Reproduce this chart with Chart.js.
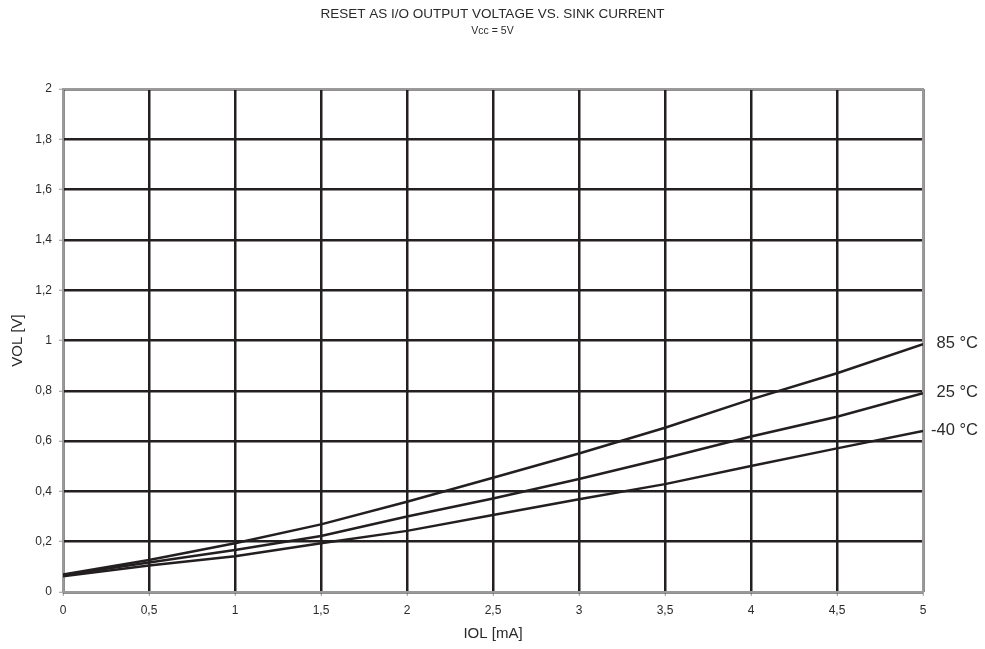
<!DOCTYPE html>
<html>
<head>
<meta charset="utf-8">
<script src="https://cdn.jsdelivr.net/npm/chart.js@4.4.1/dist/chart.umd.min.js"></script>
<style>
  html, body { margin: 0; padding: 0; background: #fff; }
  #wrap { width: 985px; height: 649px; }
</style>
</head>
<body>
<div id="wrap"><canvas id="chart"></canvas></div>
<script>
const chartTitle = 'RESET AS I/O OUTPUT VOLTAGE VS. SINK CURRENT';
const chartSubtitle = 'Vcc = 5V';
const xTitle = 'IOL [mA]';
const yTitle = 'VOL [V]';

const iol = [0, 0.5, 1, 1.5, 2, 2.5, 3, 3.5, 4, 4.5, 5];
const vol85 = [0.070, 0.127, 0.194, 0.269, 0.359, 0.454, 0.551, 0.653, 0.766, 0.870, 0.985];
const vol25 = [0.068, 0.117, 0.167, 0.223, 0.300, 0.372, 0.449, 0.532, 0.618, 0.697, 0.790];
const volM40 = [0.063, 0.105, 0.142, 0.194, 0.243, 0.306, 0.369, 0.429, 0.501, 0.571, 0.640];
const seriesLabels = ['85 °C', '25 °C', '-40 °C'];

const ink = '#231f20';
const textInk = '#2a2a2a';
const frameGray = '#9a9a9a';
const font = 'Arial, "Liberation Sans", sans-serif';

const toPoints = ys => iol.map((x, i) => ({ x, y: ys[i] }));
const comma = v => String(Math.round(v * 10) / 10).replace('.', ',');

function makeDataset(label, ys) {
  return {
    label,
    data: toPoints(ys),
    borderColor: ink,
    borderWidth: 2.5,
    pointRadius: 0,
    tension: 0,
    fill: false
  };
}

// titles at top of the canvas
const titlePlugin = {
  id: 'titles',
  afterDraw(chart) {
    const ctx = chart.ctx;
    ctx.save();
    ctx.fillStyle = textInk;
    ctx.textAlign = 'center';
    ctx.textBaseline = 'middle';
    ctx.font = '13.5px ' + font;
    ctx.fillText(chartTitle, chart.width / 2, 14);
    ctx.font = '10.5px ' + font;
    ctx.fillText(chartSubtitle, chart.width / 2, 31);
    ctx.restore();
  }
};

// grey frame round the plot area
const framePlugin = {
  id: 'frame',
  beforeDatasetsDraw(chart) {
    const { left, top, right, bottom } = chart.chartArea;
    const ctx = chart.ctx;
    ctx.save();
    ctx.strokeStyle = frameGray;
    ctx.lineWidth = 2;
    ctx.strokeRect(left, top, right - left, bottom - top);
    ctx.restore();
  }
};

// series names next to the line ends
const endLabelPlugin = {
  id: 'endLabels',
  afterDatasetsDraw(chart) {
    const ctx = chart.ctx;
    const yScale = chart.scales.y;
    ctx.save();
    ctx.fillStyle = textInk;
    ctx.font = '16.5px ' + font;
    ctx.textAlign = 'right';
    ctx.textBaseline = 'middle';
    chart.data.datasets.forEach(ds => {
      const last = ds.data[ds.data.length - 1];
      ctx.fillText(ds.label, 978, yScale.getPixelForValue(last.y) - 1);
    });
    ctx.restore();
  }
};

const tickFont = { family: font, size: 12 };
const titleFont = { family: font, size: 15 };

new Chart(document.getElementById('chart'), {
  type: 'line',
  data: {
    datasets: [
      makeDataset(seriesLabels[0], vol85),
      makeDataset(seriesLabels[1], vol25),
      makeDataset(seriesLabels[2], volM40)
    ]
  },
  options: {
    responsive: true,
    maintainAspectRatio: false,
    animation: false,
    layout: { padding: { top: 89, right: 62, left: 0, bottom: 0 } },
    plugins: { legend: { display: false }, tooltip: { enabled: false } },
    scales: {
      x: {
        type: 'linear',
        min: 0,
        max: 5,
        afterFit(scale) { scale.height = 57; },
        ticks: { stepSize: 0.5, color: textInk, font: tickFont, padding: 7, callback: comma, maxRotation: 0 },
        grid: { color: ink, lineWidth: 2.5, tickColor: frameGray, tickLength: 4, tickWidth: 1 },
        border: { display: false },
        title: { display: true, text: xTitle, color: textInk, font: titleFont, padding: { top: 4, bottom: 6 } }
      },
      y: {
        min: 0,
        max: 2,
        afterFit(scale) { scale.width = 63; },
        ticks: { stepSize: 0.2, color: textInk, font: tickFont, padding: 7, callback: comma },
        grid: { color: ink, lineWidth: 2.5, tickColor: frameGray, tickLength: 4, tickWidth: 1 },
        border: { display: false },
        title: { display: true, text: yTitle, color: textInk, font: titleFont, padding: { top: 9, bottom: 4 } }
      }
    }
  },
  plugins: [titlePlugin, framePlugin, endLabelPlugin]
});
</script>
</body>
</html>
